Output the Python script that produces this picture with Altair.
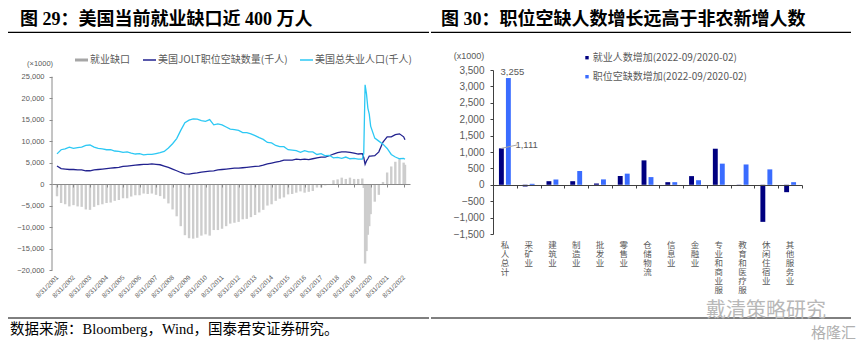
import altair as alt
import pandas as pd

# ---------------- data: left panel (thousands of persons) ----------------
dates = [
    "2001-08-31", "2001-11-30",
    "2002-02-28", "2002-05-31", "2002-08-31", "2002-11-30",
    "2003-02-28", "2003-05-31", "2003-08-31", "2003-11-30",
    "2004-02-28", "2004-05-31", "2004-08-31", "2004-11-30",
    "2005-02-28", "2005-05-31", "2005-08-31", "2005-11-30",
    "2006-02-28", "2006-05-31", "2006-08-31", "2006-11-30",
    "2007-02-28", "2007-05-31", "2007-08-31", "2007-11-30",
    "2008-02-28", "2008-05-31", "2008-08-31", "2008-11-30",
    "2009-02-28", "2009-05-31", "2009-08-31", "2009-11-30",
    "2010-02-28", "2010-05-31", "2010-08-31", "2010-11-30",
    "2011-02-28", "2011-05-31", "2011-08-31", "2011-11-30",
    "2012-02-28", "2012-05-31", "2012-08-31", "2012-11-30",
    "2013-02-28", "2013-05-31", "2013-08-31", "2013-11-30",
    "2014-02-28", "2014-05-31", "2014-08-31", "2014-11-30",
    "2015-02-28", "2015-05-31", "2015-08-31", "2015-11-30",
    "2016-02-28", "2016-05-31", "2016-08-31", "2016-11-30",
    "2017-02-28", "2017-05-31", "2017-08-31", "2017-11-30",
    "2018-02-28", "2018-05-31", "2018-08-31", "2018-11-30",
    "2019-02-28", "2019-05-31", "2019-08-31", "2019-11-30",
    "2020-02-28", "2020-03-31", "2020-04-30", "2020-05-31",
    "2020-06-30", "2020-07-31", "2020-08-31", "2020-11-30",
    "2021-02-28", "2021-05-31", "2021-08-31", "2021-11-30",
    "2022-02-28", "2022-05-31", "2022-08-31", "2022-09-30",
]
jolt = [
    4200, 3600,
    3500, 3400, 3400, 3300,
    3300, 3100, 3100, 3300,
    3400, 3500, 3600, 3700,
    3800, 3900, 4100, 4200,
    4300, 4400, 4500, 4600,
    4600, 4700, 4600, 4500,
    4200, 3900, 3500, 3100,
    2700, 2400, 2300, 2500,
    2600, 2800, 2900, 3000,
    3100, 3300, 3400, 3500,
    3600, 3700, 3700, 3800,
    3900, 4000, 4100, 4200,
    4400, 4700, 4900, 5100,
    5300, 5600, 5600, 5600,
    5800, 5700, 5800, 5700,
    5900, 6100, 6300, 6300,
    6600, 7000, 7300, 7500,
    7500, 7400, 7200, 7000,
    7100, 6200, 4600, 5400, 5900, 6500, 6500, 6600,
    7500, 9800, 11000, 11000,
    11500, 11700, 11000, 10300,
]
unemp = [
    7040, 8000,
    8200, 8600, 8300, 8500,
    8600, 9000, 9100, 8600,
    8300, 8200, 8000, 8000,
    7700, 7600, 7400, 7500,
    7200, 7000, 7100, 6800,
    6900, 6900, 7100, 7300,
    7600, 8400, 9400, 10600,
    12500, 14300, 14900, 15200,
    15100, 14800, 14600, 15000,
    13800, 14000, 13800, 13300,
    12800, 12700, 12500, 12000,
    12000, 11700, 11300, 10800,
    10400, 9700, 9600, 9000,
    8700, 8700, 8000, 7900,
    7800, 7400, 7800, 7500,
    7500, 6900, 7100, 6600,
    6700, 6100, 6200, 6000,
    6300, 5900, 6000, 5800,
    5800, 7100, 23100, 21000, 17700, 16300, 13500, 10700,
    10000, 9300, 8300, 6900,
    6300, 5900, 6000, 5800,
]
gap = [
    -2840, -4400,
    -4700, -5200, -4900, -5200,
    -5300, -5900, -6000, -5300,
    -4900, -4700, -4400, -4300,
    -3900, -3700, -3300, -3300,
    -2900, -2600, -2600, -2200,
    -2300, -2200, -2500, -2800,
    -3400, -4500, -5900, -7500,
    -9800, -11900, -12600, -12700,
    -12500, -12000, -11700, -12000,
    -10700, -10700, -10400, -9800,
    -9200, -9000, -8800, -8200,
    -8100, -7700, -7200, -6600,
    -6000, -5000, -4700, -3900,
    -3400, -3100, -2400, -2300,
    -2000, -1700, -2000, -1800,
    -1600, -800, -800, -300,
    -100, 900, 1100, 1500,
    1200, 1500, 1200, 1200,
    1300, -900, -18500, -15600, -11800, -9800, -7000, -4100,
    -2500, 500, 2700, 4100,
    5200, 5800, 5000, 4500,
]
tick_years = [2001, 2002, 2003, 2004, 2005, 2006, 2007, 2008, 2009, 2010, 2011,
              2012, 2013, 2014, 2015, 2016, 2017, 2018, 2019, 2020, 2021, 2022]
left_y_ticks = [-20000, -15000, -10000, -5000, 0, 5000, 10000, 15000, 20000, 25000]

# ---------------- data: right panel (thousands) ----------------
cats = ["私人总计", "采矿业", "建筑业", "制造业", "批发业", "零售业", "仓储物流",
        "信息业", "金融业", "专业和商业服", "教育和医疗服", "休闲住宿业", "其他服务业"]
job_gain = [1111, -50, 110, 110, 40, 265, 745, 80, 265, 1100, -20, -1130, -225]
vac_gain = [3255, 30, 165, 420, 165, 340, 235, 80, 140, 645, 620, 470, 80]
series_names = ["就业人数增加(2022-09/2020-02)", "职位空缺数增加(2022-09/2020-02)"]
right_y_ticks = [-1500, -1000, -500, 0, 500, 1000, 1500, 2000, 2500, 3000, 3500]

# ---------------- styles ----------------
CJK = "Noto Sans CJK SC"
LAT = "Liberation Sans, Arial, Noto Sans CJK SC"
SERIF = "Liberation Serif, Noto Sans CJK SC"
TXT = "#595959"
NAVY_LINE = "#22228f"
CYAN_LINE = "#2cc8f4"
BAR_GRAY = "#cdcdcd"
NAVY_BAR = "#000080"
BLUE_BAR = "#3a6cff"
AXIS_GRAY = "#8a8a8a"
COMMA = "format(datum.value, ',')"

one = alt.Data(values=[{"a": 1}])


def deco_text(s, x, y, size=10, color=TXT, font=CJK, weight="normal",
              align="left", baseline="middle"):
    return alt.Chart(one).mark_text(
        text=s, fontSize=size, color=color, font=font, fontWeight=weight,
        align=align, baseline=baseline,
    ).encode(x=alt.value(x), y=alt.value(y))


def deco_rule(x1, x2, y, color="black", width=1.3):
    return alt.Chart(one).mark_rule(color=color, strokeWidth=width).encode(
        x=alt.value(x1), x2=alt.value(x2), y=alt.value(y))


def deco_rect(x1, x2, y1, y2, color):
    return alt.Chart(one).mark_rect(color=color).encode(
        x=alt.value(x1), x2=alt.value(x2), y=alt.value(y1), y2=alt.value(y2))


# ---------------- left panel (plot origin at page x=52, y=70) ----------------
df_left = pd.DataFrame({"date": dates, "jolt": jolt, "unemp": unemp, "gap": gap})

xscale = alt.Scale(type="utc", domain=[
    alt.DateTime(year=2001, month=8, date=31, utc=True),
    alt.DateTime(year=2022, month=9, date=30, utc=True)])
tick_vals = [alt.DateTime(year=y, month=8, date=31, utc=True) for y in tick_years]
# top of the domain leaves headroom so that both panels share the same plot top
yscale_l = alt.Scale(domain=[-20000, 26560], nice=False, zero=False)

x_labels = alt.X("date:T", scale=xscale, title=None, axis=alt.Axis(
    orient="bottom", values=tick_vals,
    labelExpr="utcFormat(datum.value, '%-m/%d/%Y')",
    labelAngle=315, labelAlign="right", labelBaseline="middle",
    labelFontSize=6.5, labelFont=LAT, labelColor=TXT, labelPadding=6,
    domain=False, ticks=False, grid=False, labelOverlap=False))
x_zero = alt.X("date:T", scale=xscale, title=None, axis=alt.Axis(
    orient="bottom", offset=-86, values=tick_vals, labels=False,
    domain=True, ticks=True, tickSize=3, domainColor=AXIS_GRAY,
    tickColor=AXIS_GRAY, grid=False, zindex=1))

bars_l = alt.Chart(df_left).mark_bar(size=2.4, color=BAR_GRAY).encode(
    x=x_labels,
    y=alt.Y("gap:Q", scale=yscale_l, title=None, axis=alt.Axis(
        orient="left", values=left_y_ticks, labelExpr=COMMA, labelFontSize=7.5,
        labelFont=LAT, labelColor=TXT, domain=False,
        tickColor=AXIS_GRAY, tickSize=3, labelPadding=5, grid=False)))
line_j = alt.Chart(df_left).mark_line(color=NAVY_LINE, strokeWidth=1.3).encode(
    x=x_zero, y=alt.Y("jolt:Q", scale=yscale_l, axis=None))
line_u = alt.Chart(df_left).mark_line(color=CYAN_LINE, strokeWidth=1.3).encode(
    x=alt.X("date:T", scale=xscale, axis=None),
    y=alt.Y("unemp:Q", scale=yscale_l, axis=None))
y_domain_l = alt.Chart(one).mark_rule(color=AXIS_GRAY, strokeWidth=1).encode(
    x=alt.value(0),
    y=alt.YDatum(left_y_ticks[0], scale=yscale_l, axis=None),
    y2=alt.Y2Datum(left_y_ticks[-1]))

left = alt.layer(
    bars_l, line_j, line_u, y_domain_l,
    deco_text("图 29：美国当前就业缺口近 400 万人", -32, -45, size=18,
              color="black", font=SERIF, weight="bold", baseline="alphabetic"),
    deco_rule(-44, 377, -37.7),
    deco_rect(23, 36, -11.5, -8.5, "#a6a6a6"),
    deco_text("就业缺口", 38, -10),
    deco_rule(91, 104, -10, color=NAVY_LINE, width=1.5),
    deco_text("美国JOLT职位空缺数量(千人)", 106, -10),
    deco_rule(248, 261, -10, color=CYAN_LINE, width=1.5),
    deco_text("美国总失业人口(千人)", 263, -10),
    deco_text("(×1000)", -25, -6.3, size=7.5, font=LAT),
    # footer (left half)
    deco_rule(-44, 377, 248, width=1),
    deco_text("数据来源：Bloomberg，Wind，国泰君安证券研究。", -42, 260,
              size=14.5, color="black", font=SERIF),
).resolve_axis(x="independent", y="independent").properties(width=358, height=200)

# ---------------- right panel (plot origin at page x=492, y=70) ----------------
df_right = pd.DataFrame({
    "cat": cats + cats,
    "series": [series_names[0]] * len(cats) + [series_names[1]] * len(cats),
    "value": job_gain + vac_gain,
})
df_lab_top = pd.DataFrame({"cat": [cats[0]], "series": [series_names[1]],
                           "value": [vac_gain[0]], "label": ["3,255"]})
df_lab_side = pd.DataFrame({"cat": [cats[0]], "series": [series_names[0]],
                            "value": [job_gain[0]], "label": ["1,111"]})

xs_r = alt.Scale(paddingInner=0, paddingOuter=0)
xo_scale = alt.Scale(paddingInner=0.3, paddingOuter=0.85)
ys_r = alt.Scale(domain=[-1500, 3500], nice=False, zero=False)

x_r_labels = alt.X("cat:N", sort=cats, scale=xs_r, title=None, axis=alt.Axis(
    orient="bottom", labelExpr="split(datum.label, '')", labelAngle=0,
    labelFontSize=8.5, labelLineHeight=9, labelFont=CJK, labelColor=TXT,
    labelBaseline="top", labelPadding=6, domain=False, ticks=False, grid=False))
x_r_zero = alt.X("cat:N", sort=cats, scale=xs_r, title=None, axis=alt.Axis(
    orient="bottom", offset=-49, labels=False, domain=True, ticks=True,
    tickBand="extent", tickSize=3, domainColor="#404040", tickColor="#404040",
    grid=False, zindex=1))
xoff = alt.XOffset("series:N", sort=series_names, scale=xo_scale)

bars_r = alt.Chart(df_right).mark_bar().encode(
    x=x_r_labels, xOffset=xoff,
    y=alt.Y("value:Q", scale=ys_r, title=None, axis=alt.Axis(
        orient="left", values=right_y_ticks, labelExpr=COMMA, labelFontSize=10,
        labelFont=LAT, labelColor=TXT, domainColor="#404040",
        tickColor="#404040", tickSize=3, labelPadding=6, grid=False)),
    color=alt.Color("series:N", scale=alt.Scale(domain=series_names,
                                               range=[NAVY_BAR, BLUE_BAR]),
                    legend=None))
lab_top = alt.Chart(df_lab_top).mark_text(
    fontSize=9.5, font=LAT, color=TXT, dx=4, dy=-6).encode(
    x=x_r_zero, xOffset=xoff, y=alt.Y("value:Q", scale=ys_r, axis=None),
    text="label:N")
lab_side = alt.Chart(df_lab_side).mark_text(
    fontSize=9.5, font=LAT, color=TXT, align="left", dx=14, dy=-3).encode(
    x=alt.X("cat:N", sort=cats, scale=xs_r, axis=None), xOffset=xoff,
    y=alt.Y("value:Q", scale=ys_r, axis=None), text="label:N")
leader = alt.Chart(df_lab_side).mark_rule(color="#a6a6a6", strokeWidth=1).encode(
    x=alt.X("cat:N", sort=cats, scale=xs_r, axis=None), xOffset=xoff,
    y=alt.Y("value:Q", scale=ys_r, axis=None),
    x2=alt.value(24), y2=alt.value(75))

right = alt.layer(
    bars_r, lab_top, leader, lab_side,
    deco_text("图 30：职位空缺人数增长远高于非农新增人数", -52, -45, size=18,
              color="black", font=SERIF, weight="bold", baseline="alphabetic"),
    deco_rule(-62, 358, -37.7),
    deco_text("(x1000)", -39.3, -14, size=9, font=LAT),
    deco_rect(92.3, 95.7, -14, -10.6, NAVY_BAR),
    deco_text(series_names[0], 99.7, -12.3, size=10),
    deco_rect(92.3, 95.7, 5, 8.4, BLUE_BAR),
    deco_text(series_names[1], 99.7, 6.7, size=10),
    # footer (right half) and watermark
    deco_rule(-62, 358, 248, width=1),
    deco_text("戴清策略研究", 213, 241, size=20, color="#b8b8b8"),
    deco_text("格隆汇", 318, 263, size=15, color="#b0b0b0"),
).resolve_axis(x="independent", y="independent").properties(width=309, height=164)

chart = alt.concat(
    left, right, columns=2, spacing=0, align="none"
).properties(
    padding={"left": 7, "top": 11, "right": 0, "bottom": 0},
    background="white",
).configure_view(stroke=None).configure_concat(spacing=0)

chart.save("out.html", embed_options={"renderer": "svg", "actions": False})
